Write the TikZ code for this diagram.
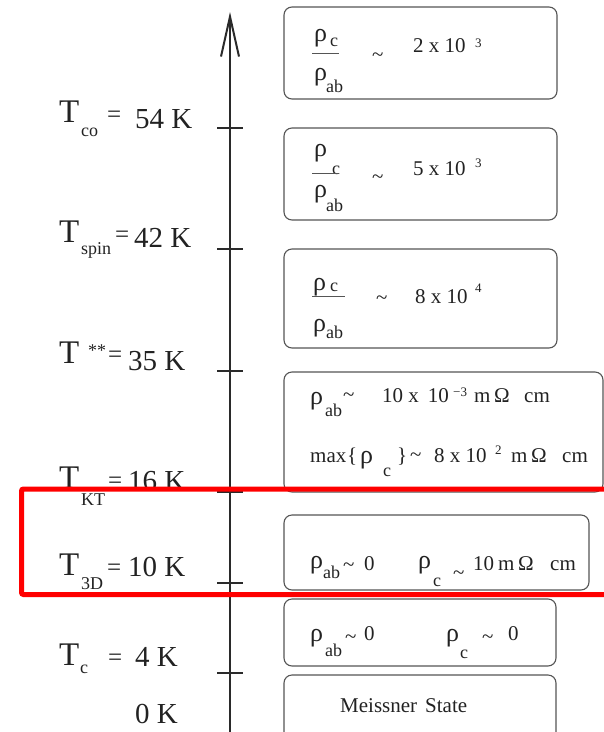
\documentclass[tikz,border=0pt]{standalone}
\usepackage{fontspec}
\setmainfont{Liberation Serif}
\usetikzlibrary{arrows.meta}
\definecolor{axiscol}{HTML}{2A2A2A}
\definecolor{boxcol}{HTML}{555555}
\definecolor{txtcol}{HTML}{222222}
\definecolor{hired}{HTML}{FF0000}
\tikzset{
  axisline/.style={line width=2pt, draw=axiscol},
  tickline/.style={line width=2pt, draw=axiscol},
  statebox/.style={draw=boxcol, line width=1.1pt, rounded corners=8pt},
  fracline/.style={draw=boxcol, line width=1pt},
  txt/.style={inner sep=0pt, anchor=base west, text=txtcol},
  lbig/.style={txt, font=\fontsize{33}{33}\selectfont},
  lnum/.style={txt, font=\fontsize{29}{29}\selectfont},
  leq/.style={txt, font=\fontsize{25}{25}\selectfont},
  lmid/.style={txt, font=\fontsize{21}{21}\selectfont},
  lrho/.style={txt, font=\fontsize{26}{26}\selectfont},
  lsub/.style={txt, font=\fontsize{18}{18}\selectfont},
  lsup/.style={txt, font=\fontsize{13}{13}\selectfont},
  hilite/.style={draw=hired, line width=5pt, rounded corners=2pt},
}
\begin{document}
\begin{tikzpicture}[x=1pt,y=-1pt]
\useasboundingbox (0,0) rectangle (604,732);
% axis
\coordinate (axbot) at (230,745);
\coordinate (axtop) at (230,12);
\draw[axisline,-{Straight Barb[length=40pt,width=18pt]}] (axbot) -- (axtop);
\foreach \y/\n in {128/co,249/spin,371/ss,492/kt,583/td,673/tc}{
  \coordinate (tl\n) at (217,\y);
  \coordinate (tr\n) at (243,\y);
  \draw[tickline] (tl\n) -- (tr\n);
}
% left labels
\node[lbig] (Tco) at (59,122) {T};
\node[lsub] (Tcos) at (81,136) {co};
\node[leq] (Tcoe) at (107,122) {=};
\node[lnum] (Tcon) at (135,128) {54 K};

\node[lbig] (Tsp) at (59,242) {T};
\node[lsub] (Tsps) at (81,254) {spin};
\node[leq] (Tspe) at (115,242) {=};
\node[lnum] (Tspn) at (134,247) {42 K};

\node[lbig] (Tss) at (59,363) {T};
\node[lsub] (Tsss) at (88,356) {**};
\node[leq] (Tsse) at (108,362) {=};
\node[lnum] (Tssn) at (128,370) {35 K};

\node[lbig] (Tkt) at (59,488) {T};
\node[lsub] (Tkts) at (81,505) {KT};
\node[leq] (Tkte) at (108,488) {=};
\node[lnum] (Tktn) at (128,490) {16 K};

\node[lbig] (Ttd) at (59,575) {T};
\node[lsub] (Ttds) at (81,589) {3D};
\node[leq] (Ttde) at (107,575) {=};
\node[lnum] (Ttdn) at (128,576) {10 K};

\node[lbig] (Ttc) at (59,665) {T};
\node[lsub] (Ttcs) at (80,673) {c};
\node[leq] (Ttce) at (108,665) {=};
\node[lnum] (Ttcn) at (135,666) {4 K};

\node[lnum] (Tzero) at (135,723) {0 K};

% boxes
\draw[statebox] (284,7) rectangle (557,99);
\draw[statebox] (284,128) rectangle (557,220);
\draw[statebox] (284,249) rectangle (557,348);
\draw[statebox] (284,372) rectangle (603,492);
\draw[statebox] (284,515) rectangle (589,590);
\draw[statebox] (284,599) rectangle (556,666);
\draw[statebox] (284,675) rectangle (556,745);

% box 1
\node[lrho] (b1r) at (314,41) {ρ};
\node[lsub] (b1c) at (330,46) {c};
\coordinate (b1la) at (312,53);
\coordinate (b1lb) at (339,53);
\draw[fracline] (b1la) -- (b1lb);
\node[lrho] (b1r2) at (314,80) {ρ};
\node[lsub] (b1ab) at (326,92) {ab};
\node[lmid] (b1t) at (372,61) {\textasciitilde};
\node[lmid] (b1v) at (413,52) {2 x 10};
\node[lsup] (b1e) at (475,47) {3};

% box 2
\node[lrho] (b2r) at (314,156) {ρ};
\node[lsub] (b2c) at (332,174) {c};
\coordinate (b2la) at (312,173);
\coordinate (b2lb) at (339,173);
\draw[fracline] (b2la) -- (b2lb);
\node[lrho] (b2r2) at (314,197) {ρ};
\node[lsub] (b2ab) at (326,211) {ab};
\node[lmid] (b2t) at (372,183) {\textasciitilde};
\node[lmid] (b2v) at (413,175) {5 x 10};
\node[lsup] (b2e) at (475,167) {3};

% box 3
\node[lrho] (b3r) at (313,290) {ρ};
\node[lsub] (b3c) at (330,291) {c};
\coordinate (b3la) at (312,296);
\coordinate (b3lb) at (345,296);
\draw[fracline] (b3la) -- (b3lb);
\node[lrho] (b3r2) at (313,331) {ρ};
\node[lsub] (b3ab) at (326,338) {ab};
\node[lmid] (b3t) at (376,304) {\textasciitilde};
\node[lmid] (b3v) at (415,303) {8 x 10};
\node[lsup] (b3e) at (475,292) {4};

% box 4
\node[lrho] (b4r) at (310,404) {ρ};
\node[lsub] (b4ab) at (325,416) {ab};
\node[lmid] (b4t) at (343,401) {\textasciitilde};
\node[lmid] (b4v) at (382,402) {10 x\hspace{9pt}10};
\node[lsup] (b4e) at (453,396) {−3};
\node[lmid] (b4m1) at (474,402) {m};
\node[lmid] (b4o1) at (494,402) {Ω};
\node[lmid] (b4c1) at (524,402) {cm};
\node[lmid] (b4m) at (310,462) {max};
\node[lmid] (b4ob) at (347,462) {\{};
\node[lrho] (b4r2) at (360,463) {ρ};
\node[lsub] (b4c) at (383,476) {c};
\node[lmid] (b4cb) at (397,462) {\}};
\node[lmid] (b4t2) at (410,461) {\textasciitilde};
\node[lmid] (b4v2) at (434,462) {8 x 10};
\node[lsup] (b4e2) at (495,454) {2};
\node[lmid] (b4m2) at (511,462) {m};
\node[lmid] (b4o2) at (531,462) {Ω};
\node[lmid] (b4c2) at (562,462) {cm};

% box 5
\node[lrho] (b5r) at (310,568) {ρ};
\node[lsub] (b5ab) at (323,578) {ab};
\node[lmid] (b5t) at (343,571) {\textasciitilde};
\node[lmid] (b5z) at (364,570) {0};
\node[lrho] (b5r2) at (418,568) {ρ};
\node[lsub] (b5c) at (433,586) {c};
\node[lmid] (b5t2) at (453,579) {\textasciitilde};
\node[lmid] (b5v) at (473,570) {10};
\node[lmid] (b5m) at (498,570) {m};
\node[lmid] (b5o) at (518,570) {Ω};
\node[lmid] (b5c1) at (550,570) {cm};

% box 6
\node[lrho] (b6r) at (310,641) {ρ};
\node[lsub] (b6ab) at (325,656) {ab};
\node[lmid] (b6t) at (345,643) {\textasciitilde};
\node[lmid] (b6z) at (364,640) {0};
\node[lrho] (b6r2) at (446,641) {ρ};
\node[lsub] (b6c) at (460,658) {c};
\node[lmid] (b6t2) at (482,643) {\textasciitilde};
\node[lmid] (b6z2) at (508,640) {0};

% box 7
\node[lmid] (b7) at (340,712) {Meissner\hspace{8pt}State};

% highlight
\draw[hilite] (21.5,489) rectangle (625,594.5);
\end{tikzpicture}
\end{document}
